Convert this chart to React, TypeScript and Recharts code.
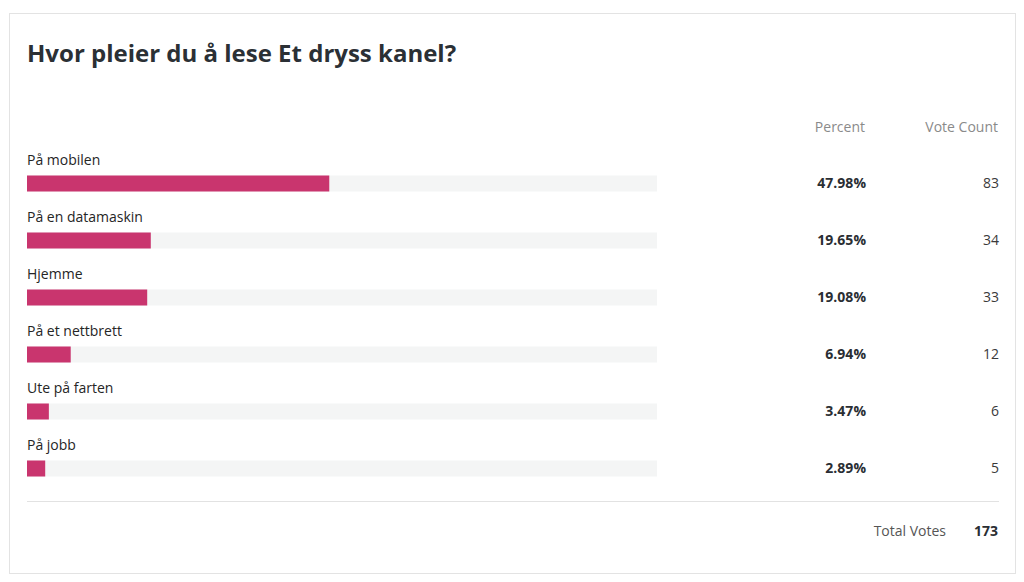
import React from "react";
import { BarChart, Bar, XAxis, YAxis, LabelList } from "recharts";

const answers = ["På mobilen", "På en datamaskin", "Hjemme", "På et nettbrett", "Ute på farten", "På jobb"];
const percents = [47.98, 19.65, 19.08, 6.94, 3.47, 2.89];
const votes = [83, 34, 33, 12, 6, 5];
const totalVotes = 173;

const FONT = "'Segoe UI', 'Open Sans', 'Noto Sans', sans-serif";
const CARD_W = 1007;
const CARD_H = 561;
const PCT_RIGHT = 856;
const CNT_RIGHT = 989;

const data = answers.map((name, i) => ({ name, percent: percents[i], votes: votes[i] }));

function NameLabel(props: any) {
  const { x, y, value } = props;
  return (
    <text x={x} y={y - 11} fill="#252525" fontSize={14} fontFamily={FONT}>
      {value}
    </text>
  );
}

function PercentLabel(props: any) {
  const { y, height, value } = props;
  return (
    <text x={PCT_RIGHT} y={y + height / 2 + 4} textAnchor="end" fill="#2a2e33" fontSize={14} fontWeight={700} fontFamily={FONT}>
      {value.toFixed(2)}%
    </text>
  );
}

function VoteLabel(props: any) {
  const { y, height, value } = props;
  return (
    <text x={CNT_RIGHT} y={y + height / 2 + 4} textAnchor="end" fill="#3a3a3a" fontSize={14} fontFamily={FONT}>
      {value}
    </text>
  );
}

export default function App() {
  return (
    <div
      style={{
        position: "absolute",
        left: 9,
        top: 13,
        width: CARD_W - 2,
        height: CARD_H - 2,
        border: "1px solid #e3e3e3",
        background: "#fff",
        fontFamily: FONT,
      }}
    >
      <div style={{ position: "absolute", left: 17, top: 22, fontSize: 24, fontWeight: 700, color: "#2b3035" }}>
        Hvor pleier du å lese Et dryss kanel?
      </div>
      <div style={{ position: "absolute", right: CARD_W - 1 - PCT_RIGHT, top: 103, fontSize: 14, color: "#8a8a8a" }}>Percent</div>
      <div style={{ position: "absolute", right: CARD_W - 1 - CNT_RIGHT, top: 103, fontSize: 14, color: "#8a8a8a" }}>Vote Count</div>
      <div style={{ position: "absolute", left: 0, top: 0 }}>
        <BarChart
          width={CARD_W - 2}
          height={CARD_H - 2}
          data={data}
          layout="vertical"
          margin={{ top: 140.5, right: 358, bottom: 76.5, left: 17 }}
        >
          <XAxis type="number" domain={[0, 100]} hide />
          <YAxis type="category" dataKey="name" hide />
          <Bar dataKey="percent" fill="#c9356e" barSize={16} background={{ fill: "#f4f5f5" }} isAnimationActive={false}>
            <LabelList dataKey="name" content={NameLabel} />
            <LabelList dataKey="percent" content={PercentLabel} />
            <LabelList dataKey="votes" content={VoteLabel} />
          </Bar>
        </BarChart>
      </div>
      <div style={{ position: "absolute", left: 17, top: 487, width: 972, height: 1, background: "#e2e2e2" }} />
      <div style={{ position: "absolute", right: CARD_W - 1 - 937, top: 507, fontSize: 14, color: "#555" }}>Total Votes</div>
      <div style={{ position: "absolute", right: CARD_W - 1 - CNT_RIGHT, top: 507, fontSize: 14, fontWeight: 700, color: "#2a2e33" }}>
        {totalVotes}
      </div>
    </div>
  );
}
